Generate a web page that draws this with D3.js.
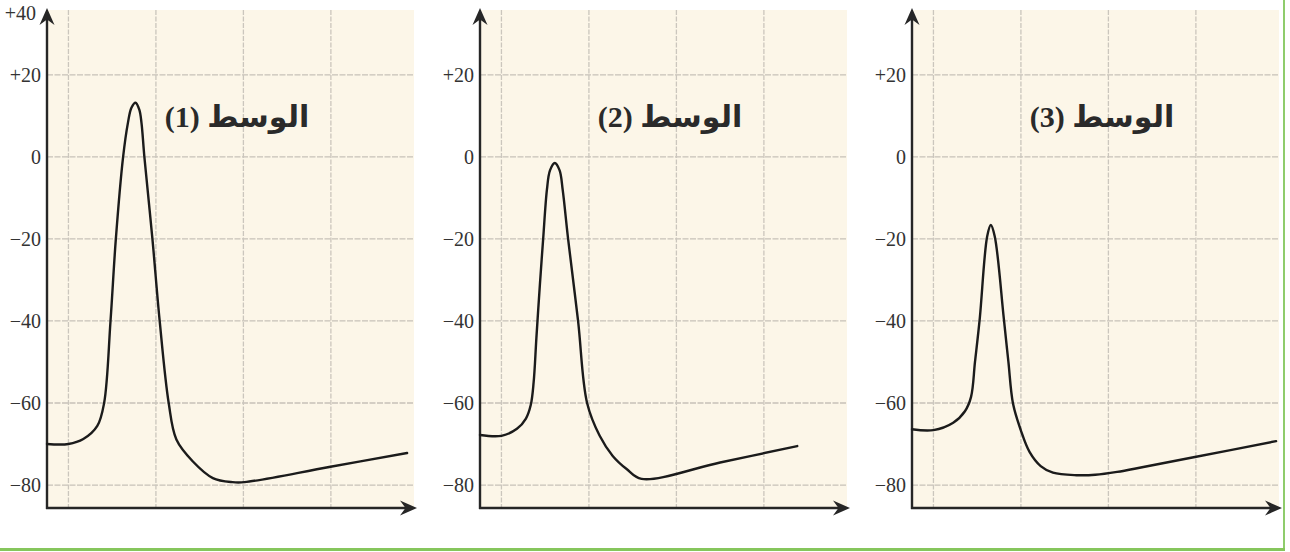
<!DOCTYPE html>
<html>
<head>
<meta charset="utf-8">
<script src="https://cdn.jsdelivr.net/npm/d3@7"></script>
<style>
  html, body { margin: 0; padding: 0; background: #ffffff; }
  svg { display: block; }
</style>
</head>
<body>
<svg id="chart" width="1290" height="552"></svg>
<script>
// ---------------- data ----------------
const panelTitles = ["الوسط (1)", "الوسط (2)", "الوسط (3)"];
const yTickValues = [20, 0, -20, -40, -60, -80];
const topAxisLabel = "+40";
const xGridValues = [0, 1, 2, 3];

// panel 1 (time in grid units, membrane potential in mV)
const time1 = [-0.245, 0.0, 0.17, 0.33, 0.408, 0.481, 0.542, 0.625, 0.68, 0.72, 0.767, 0.81, 0.835, 0.868, 0.96, 1.043, 1.146, 1.234, 1.42, 1.651, 1.876, 2.013, 2.98, 3.871];
const volt1 = [-70, -70, -68.8, -65.6, -60, -40, -20, 0, 8.3, 12.0, 13.2, 11.5, 8.3, 0, -20, -40, -60, -68.9, -74.2, -78.3, -79.3, -79.3, -75.6, -72.2];

// panel 2
const time2 = [-0.245, 0.0, 0.177, 0.28, 0.335, 0.368, 0.40, 0.44, 0.477, 0.52, 0.555, 0.61, 0.665, 0.70, 0.762, 0.876, 0.979, 1.123, 1.272, 1.431, 1.602, 2.5, 3.381];
const volt2 = [-67.8, -68.0, -66.3, -63.8, -60.5, -55, -44, -31, -20, -8, -3.3, -1.5, -3.3, -8, -20, -40, -60, -68.0, -72.9, -76.1, -78.5, -74.5, -70.5];

// panel 3
const time3 = [-0.245, 0.0, 0.226, 0.36, 0.43, 0.475, 0.53, 0.614, 0.656, 0.701, 0.804, 0.857, 0.91, 0.998, 1.10, 1.226, 1.366, 1.636, 1.85, 2.1, 2.4, 2.959, 3.917];
const volt3 = [-66.4, -66.6, -64.8, -62, -58.5, -50, -39.3, -19.4, -16.6, -19.4, -39.3, -50, -60.2, -66.6, -72.0, -75.4, -77.0, -77.6, -77.5, -76.8, -75.6, -73.3, -69.3];

const seriesTimes = [time1, time2, time3];
const seriesVolts = [volt1, volt2, volt3];

// ---------------- layout ----------------
const svg = d3.select("#chart");
const panelLeft = [47, 480, 912];
const plotWidth = 367;
const plotTop = 8;
const plotBottom = 508;

svg.append("rect").attr("x", 0).attr("y", 0).attr("width", 1290).attr("height", 552).attr("fill", "#ffffff");

const ink = "#262626";

panelLeft.forEach((x0, i) => {
  const x = d3.scaleLinear().domain([-0.245, 3.95]).range([x0, x0 + plotWidth]);
  const y = d3.scaleLinear().domain([-85.6, 36.3]).range([plotBottom, plotTop]);
  const g = svg.append("g");

  // paper tint
  g.append("rect")
    .attr("x", x0).attr("y", plotTop + 2)
    .attr("width", plotWidth).attr("height", plotBottom - plotTop - 2)
    .attr("fill", "#fcf6e8");

  // horizontal grid
  g.selectAll("line.hg").data(yTickValues).join("line")
    .attr("x1", x0).attr("x2", x0 + plotWidth)
    .attr("y1", d => y(d)).attr("y2", d => y(d))
    .attr("stroke", "#c6c1b8").attr("stroke-width", 1.3)
    .attr("stroke-dasharray", "6,1.5");

  // vertical grid
  g.selectAll("line.vg").data(xGridValues).join("line")
    .attr("x1", d => x(d)).attr("x2", d => x(d))
    .attr("y1", plotTop + 2).attr("y2", plotBottom)
    .attr("stroke", "#cbc6bd").attr("stroke-width", 1.3)
    .attr("stroke-dasharray", "5,1.5");

  // y axis labels via d3 axis
  const yAxis = d3.axisLeft(y)
    .tickValues(yTickValues)
    .tickSize(0)
    .tickPadding(6)
    .tickFormat(d => d > 0 ? "+" + d : (d < 0 ? "\u2212" + Math.abs(d) : "0"));
  const ya = g.append("g").attr("transform", `translate(${x0},0)`).call(yAxis);
  ya.select(".domain").remove();
  ya.selectAll("text")
    .attr("font-family", "'Liberation Serif', 'DejaVu Serif', serif")
    .attr("font-size", 20)
    .attr("fill", "#333");

  if (i === 0) {
    g.append("text")
      .attr("x", x0 - 11).attr("y", plotTop + 12)
      .attr("text-anchor", "end")
      .attr("font-family", "'Liberation Serif', 'DejaVu Serif', serif")
      .attr("font-size", 20).attr("fill", "#333")
      .text(topAxisLabel);
  }

  // axes lines
  g.append("line")
    .attr("x1", x0).attr("x2", x0)
    .attr("y1", plotBottom + 1).attr("y2", plotTop + 10)
    .attr("stroke", ink).attr("stroke-width", 2.4);
  g.append("line")
    .attr("x1", x0 - 1).attr("x2", x0 + plotWidth - 8)
    .attr("y1", plotBottom).attr("y2", plotBottom)
    .attr("stroke", ink).attr("stroke-width", 2.4);

  // arrow heads
  const head = "M0,0 L-17,-7.5 L-11.5,0 L-17,7.5 Z";
  g.append("path").attr("d", head)
    .attr("transform", `translate(${x0},${plotTop}) rotate(-90)`)
    .attr("fill", ink);
  g.append("path").attr("d", head)
    .attr("transform", `translate(${x0 + plotWidth + 3},${plotBottom})`)
    .attr("fill", ink);

  // curve
  const pts = seriesTimes[i].map((t, k) => [t, seriesVolts[i][k]]);
  const line = d3.line().x(d => x(d[0])).y(d => y(d[1])).curve(d3.curveCatmullRom.alpha(0.5));
  g.append("path").attr("d", line(pts))
    .attr("fill", "none").attr("stroke", "#1b1b1b").attr("stroke-width", 2.4)
    .attr("stroke-linejoin", "round").attr("stroke-linecap", "round");

  // title
  g.append("text")
    .attr("x", x0 + 190).attr("y", 127)
    .attr("text-anchor", "middle")
    .attr("direction", "rtl")
    .style("direction", "rtl")
    .attr("font-family", "'Liberation Serif', 'DejaVu Sans', serif")
    .attr("font-weight", "bold")
    .attr("font-size", 30)
    .attr("fill", "#2a2a2a")
    .text(panelTitles[i]);
});

// green frame
svg.append("line").attr("x1", 1284).attr("x2", 1284).attr("y1", 0).attr("y2", 550)
  .attr("stroke", "#8fcc6c").attr("stroke-width", 2);
svg.append("line").attr("x1", 0).attr("x2", 1285).attr("y1", 549.5).attr("y2", 549.5)
  .attr("stroke", "#86c65c").attr("stroke-width", 3);
</script>
</body>
</html>
